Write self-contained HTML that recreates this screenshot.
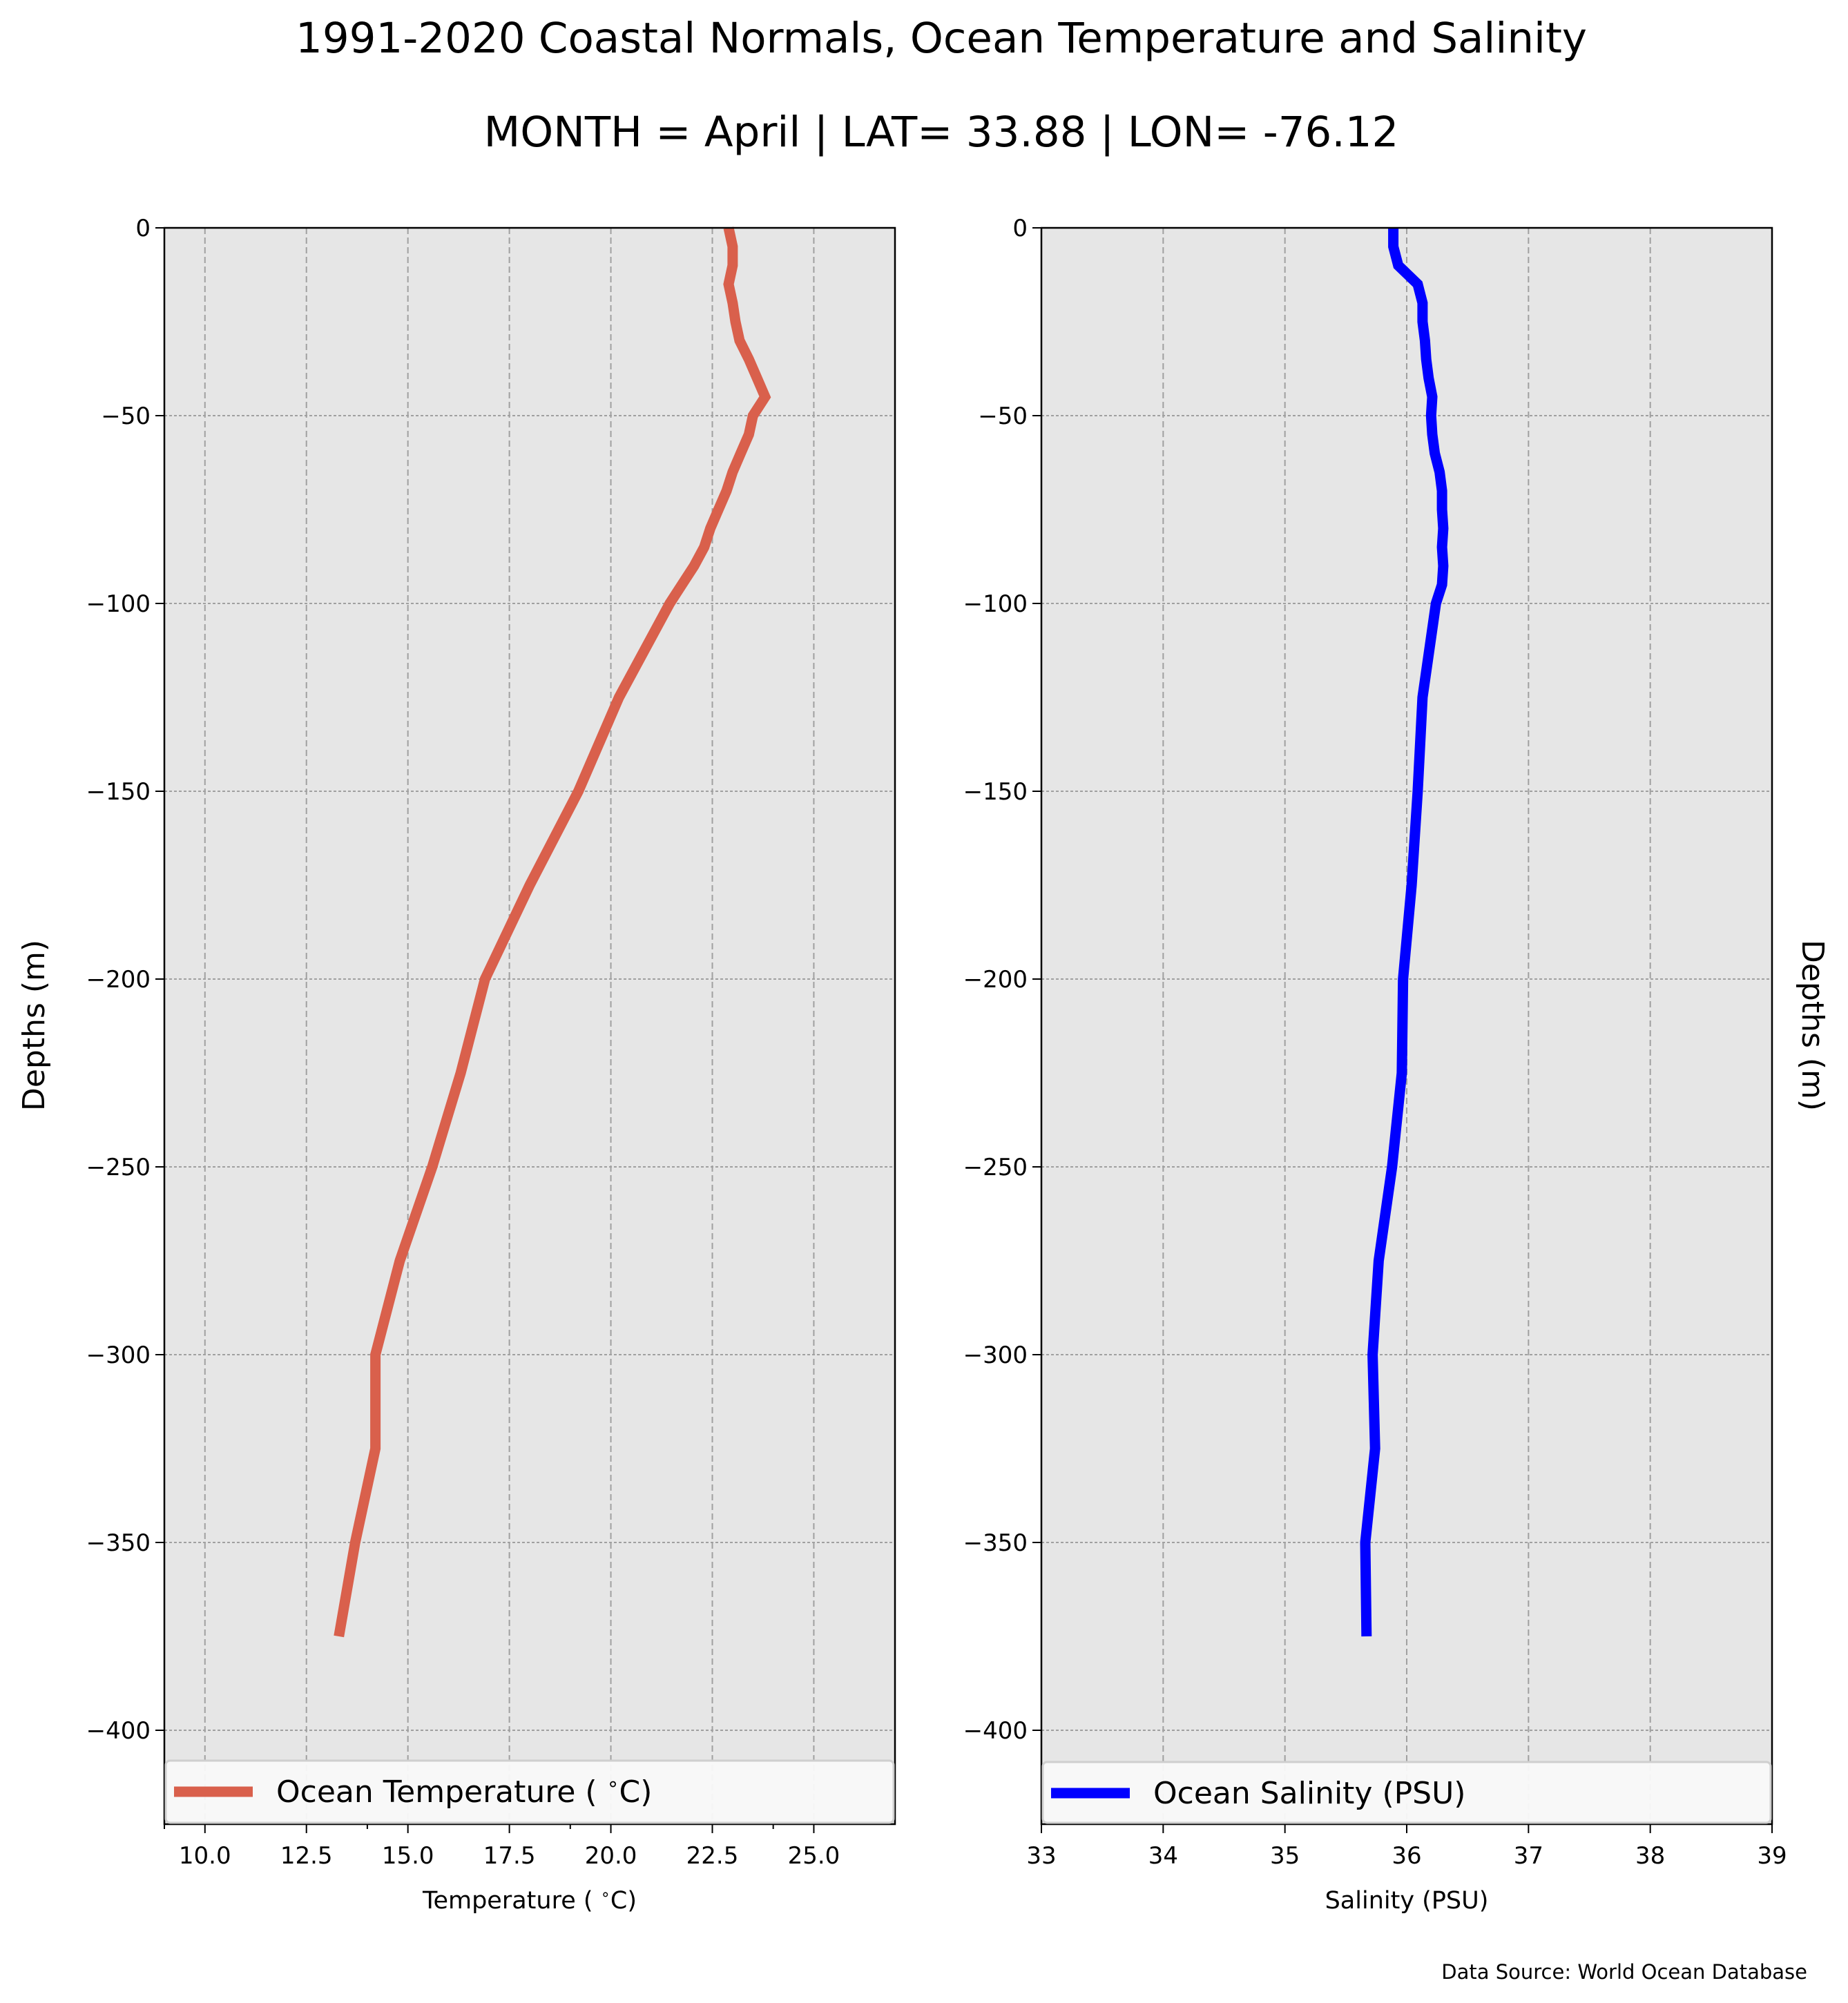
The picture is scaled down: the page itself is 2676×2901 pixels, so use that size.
<!DOCTYPE html>
<html><head><meta charset="utf-8"><style>
html,body{margin:0;padding:0;background:#fff;}
svg{display:block;font-family:"DejaVu Sans","Liberation Sans",sans-serif;}
</style></head><body>
<svg id="chart" width="2676" height="2901" viewBox="0 0 2676 2901" xmlns="http://www.w3.org/2000/svg">
<rect width="2676" height="2901" fill="#fff"/>
<text x="1363" y="76" font-size="61" text-anchor="middle">1991-2020 Coastal Normals, Ocean Temperature and Salinity</text>
<text x="1363" y="212" font-size="61" text-anchor="middle">MONTH = April | LAT= 33.88 | LON= -76.12</text>
<g id="p1"></g>
<g id="p2"></g>
<text transform="translate(64,1485) rotate(-90)" font-size="44" text-anchor="middle">Depths (m)</text>
<text transform="translate(2610,1485) rotate(90)" font-size="44" text-anchor="middle">Depths (m)</text>
<text x="2617" y="2866" font-size="29" text-anchor="end">Data Source: World Ocean Database</text>
</svg>
<script>
const depths = [0,-5,-10,-15,-20,-25,-30,-35,-40,-45,-50,-55,-60,-65,-70,-75,-80,-85,-90,-95,-100,-125,-150,-175,-200,-225,-250,-275,-300,-325,-350,-375];
const temperature = [22.9,23.0,23.0,22.9,23.0,23.07,23.17,23.4,23.6,23.8,23.5,23.4,23.2,23.0,22.85,22.65,22.45,22.3,22.05,21.75,21.45,20.2,19.2,18.0,16.9,16.3,15.6,14.8,14.2,14.2,13.7,13.3];
const salinity = [35.89,35.89,35.93,36.09,36.13,36.13,36.15,36.16,36.18,36.21,36.2,36.21,36.23,36.27,36.29,36.29,36.30,36.29,36.30,36.29,36.24,36.13,36.09,36.04,35.97,35.96,35.88,35.77,35.72,35.74,35.66,35.67];
const yTicks = [0,-50,-100,-150,-200,-250,-300,-350,-400];
const tempTicks = [10,12.5,15,17.5,20,22.5,25];
const tempTickLabels = ["10.0","12.5","15.0","17.5","20.0","22.5","25.0"];
const tempMinor = [9,14,19,24];
const salTicks = [33,34,35,36,37,38,39];
const salTickLabels = ["33","34","35","36","37","38","39"];

const NS="http://www.w3.org/2000/svg";
const TOP=330, BOT=2642, YMIN=-425, YMAX=0;
const yS = v => TOP + (YMAX - v)/(YMAX-YMIN)*(BOT-TOP);
function mk(parent, tag, attrs, text){
  const e=document.createElementNS(NS,tag);
  for(const k in attrs) e.setAttribute(k,attrs[k]);
  if(text!==undefined) e.textContent=text;
  parent.appendChild(e); return e;
}
function degText(parent, attrs, pre, post){
  const t = mk(parent,'text',attrs);
  t.appendChild(document.createTextNode(pre));
  if(post!==null){
    const s = mk(t,'tspan',{'font-size':'0.65em','baseline-shift':'super'},'\u2218');
    t.appendChild(document.createTextNode(post));
  }
  return t;
}
function panel(g, L, R, xmin, xmax, ticks, labels, minor, vals, color, xlPre, xlPost, lgPre, lgPost, legTop, key){
  const xS = v => L + (v-xmin)/(xmax-xmin)*(R-L);
  const bg = mk(g,'rect',{x:L,y:TOP,width:R-L,height:BOT-TOP,fill:'#e6e6e6'});
  
  
  ticks.forEach((t,i)=>{
    const gl = mk(g,'line',{x1:xS(t),x2:xS(t),y1:TOP,y2:BOT,stroke:'#a0a0a0','stroke-width':2,'stroke-dasharray':'9,5'});
    
    
    const tk = mk(g,'line',{x1:xS(t),x2:xS(t),y1:BOT,y2:BOT+13,stroke:'#000','stroke-width':2});
    
    
    const tl = mk(g,'text',{x:xS(t),y:2699,'font-size':34,'text-anchor':'middle'},labels[i]);
    
    
  });
  minor.forEach(t=>{
    const mt = mk(g,'line',{x1:xS(t),x2:xS(t),y1:BOT,y2:BOT+7,stroke:'#000','stroke-width':2});
    
    
  });
  yTicks.forEach(t=>{
    const gl = mk(g,'line',{x1:L,x2:R,y1:yS(t),y2:yS(t),stroke:'#a0a0a0','stroke-width':2,'stroke-dasharray':'4,3'});
    
    
    const tk = mk(g,'line',{x1:L-13,x2:L,y1:yS(t),y2:yS(t),stroke:'#000','stroke-width':2});
    
    
    const tl = mk(g,'text',{x:L-20,y:yS(t)+12,'font-size':34,'text-anchor':'end'},t===0?'0':'\u2212'+Math.abs(t));
    
    
  });
  const pts = vals.map((v,i)=>xS(v).toFixed(1)+','+yS(depths[i]).toFixed(1)).join(' ');
  const line = mk(g,'polyline',{points:pts,fill:'none',stroke:color,'stroke-width':15,'stroke-linejoin':'miter','stroke-linecap':'butt'});
  
  
  const fr = mk(g,'rect',{x:L,y:TOP,width:R-L,height:BOT-TOP,fill:'none',stroke:'#000','stroke-width':2.5});
  
  
  const lg = mk(g,'g',{});
  
  
  mk(lg,'rect',{x:L+2,y:legTop,width:R-L-4,height:BOT-legTop-2,rx:6,fill:'#f9f9f9','fill-opacity':0.95,stroke:'#cfcfcf','stroke-width':3});
  const ls = mk(lg,'line',{x1:L+14,x2:L+128,y1:legTop+45,y2:legTop+45,stroke:color,'stroke-width':15});
  
  
  const lt = degText(lg,{x:L+162,y:legTop+60,'font-size':44},lgPre,lgPost);
  
  
  const xl = degText(g,{x:(L+R)/2,y:2764,'font-size':35,'text-anchor':'middle'},xlPre,xlPost);
  
  
}
panel(document.getElementById('p1'),238,1296,9,27,tempTicks,tempTickLabels,tempMinor,temperature,'#d9604c','Temperature ( ','C)','Ocean Temperature ( ','C)',2550,'temperature');
panel(document.getElementById('p2'),1508,2566,33,39,salTicks,salTickLabels,[],salinity,'#0000ff','Salinity (PSU)',null,'Ocean Salinity (PSU)',null,2552,'salinity');
</script>
</body></html>
